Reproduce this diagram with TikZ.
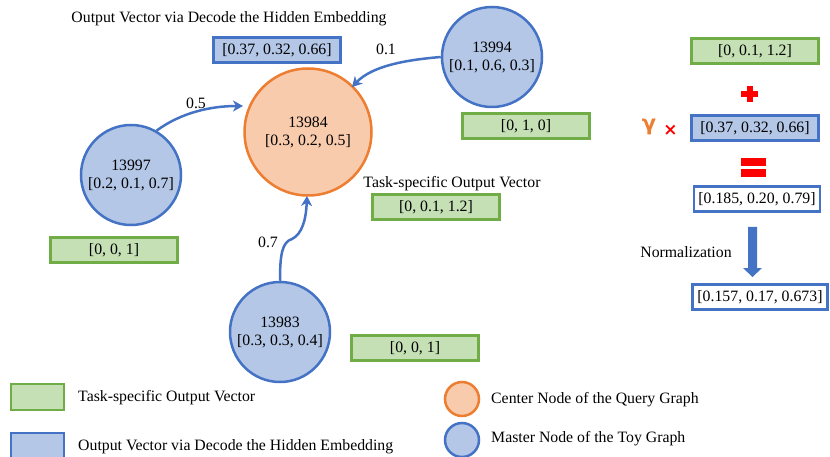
\documentclass[tikz,border=0pt]{standalone}
\usepackage{fontspec}
\setmainfont{Liberation Serif}
\newfontfamily\symfont{DejaVu Sans}
\usetikzlibrary{arrows.meta}
\definecolor{mblue}{HTML}{4472C4}
\definecolor{mbluefill}{HTML}{B4C7E7}
\definecolor{morange}{HTML}{ED7D31}
\definecolor{morangefill}{HTML}{F8CBAD}
\definecolor{mgreen}{HTML}{70AD47}
\definecolor{mgreenfill}{HTML}{C5E0B4}
\definecolor{mred}{HTML}{FF0000}
\tikzset{
  every node/.style={font=\fontsize{15.8}{18}\selectfont, inner sep=0pt},
  masternode/.style={circle, draw=mblue, fill=mbluefill, line width=2.5pt, minimum size=100pt, align=center},
  centernode/.style={circle, draw=morange, fill=morangefill, line width=2.5pt, minimum size=127pt, align=center},
  taskbox/.style={rectangle, draw=mgreen, fill=mgreenfill, line width=2.3pt, minimum width=127pt, minimum height=25pt},
  decbox/.style={rectangle, draw=mblue, fill=mbluefill, line width=2.3pt, minimum width=127pt, minimum height=25pt},
  resbox/.style={rectangle, draw=mblue, fill=white, line width=2.3pt, minimum height=25pt},
  edge/.style={draw=mblue, line width=2.5pt, -{Stealth[length=10pt,width=11pt,inset=3pt]}},
  weight/.style={font=\fontsize{15.8}{18}\selectfont},
  legsquare/.style={rectangle, line width=2.3pt, minimum width=53pt, minimum height=26pt},
  legcircle/.style={circle, line width=2.5pt, minimum size=34pt},
  legtext/.style={anchor=west},
}
\begin{document}
\begin{tikzpicture}[x=1pt,y=-1pt]
\useasboundingbox (0,0) rectangle (830,457);

% graph nodes
\node[centernode] (c) at (308,132) {13984\\{}[0.3, 0.2, 0.5]};
\node[masternode] (a) at (131,175) {13997\\{}[0.2, 0.1, 0.7]};
\node[masternode] (b) at (492,57) {13994\\{}[0.1, 0.6, 0.3]};
\node[masternode] (d) at (280,332) {13983\\{}[0.3, 0.3, 0.4]};

% vectors attached to the graph
\node (dectitle) at (229,19) {Output Vector via Decode the Hidden Embedding};
\node[decbox] (dec) at (277,50) {[0.37, 0.32, 0.66]};
\node[taskbox] (tb) at (526,126) {[0, 1, 0]};
\node (tasktitle) at (452,184) {Task-specific Output Vector};
\node[taskbox] (tc) at (436,207) {[0, 0.1, 1.2]};
\node[taskbox] (ta) at (114,250) {[0, 0, 1]};
\node[taskbox] (td) at (415,348) {[0, 0, 1]};

% weighted edges towards the centre node
\coordinate (ctipa) at (243,106);
\coordinate (ctipb) at (352,87);
\coordinate (ctipd) at (307,196);
\coordinate (bend) at (292,239);
\draw[edge] (a.60) .. controls (182,112) and (212,106) .. (ctipa);
\draw[edge] (b.west) .. controls (405,60) and (372,66) .. (ctipb);
\draw[edge] (d.north) .. controls (280,255) and (282,242) .. (bend)
                      .. controls (302,234) and (306,220) .. (ctipd);
\node[weight] (wa) at (196,103) {0.5};
\node[weight] (wb) at (386,49) {0.1};
\node[weight] (wd) at (268,242) {0.7};

% combination on the right
\node[taskbox] (r1) at (755,51) {[0, 0.1, 1.2]};
\fill[mred] (741,91) rectangle (758,97);
\fill[mred] (746.5,86) rectangle (752.5,102);
\node[text=morange, font=\symfont\bfseries\fontsize{21}{21}\selectfont] (gam) at (649,127) {γ};
\node[text=mred, font=\symfont\bfseries\fontsize{17}{17}\selectfont] (times) at (670.5,130) {×};
\node[decbox] (r2) at (755,128) {[0.37, 0.32, 0.66]};
\fill[mred] (741,158) rectangle (766,166);
\fill[mred] (741,169) rectangle (766,177);
\node[resbox, minimum width=126pt] (r3) at (757,199) {[0.185, 0.20, 0.79]};
\node (norm) at (686,252) {Normalization};
\fill[mblue] (748,227) -- (757,227) -- (757,268) -- (762,268) -- (752.5,277)
  -- (743,268) -- (748,268) -- cycle;
\node[resbox, minimum width=135pt] (r4) at (760,297) {[0.157, 0.17, 0.673]};

% legend
\node[legsquare, draw=mgreen, fill=mgreenfill] (lg) at (37.5,397) {};
\node[legtext] (lgt) at (78,398) {Task-specific Output Vector};
\node[legsquare, draw=mblue, fill=mbluefill] (lb) at (37.5,446) {};
\node[legtext] (lbt) at (78,447) {Output Vector via Decode the Hidden Embedding};
\node[legcircle, draw=morange, fill=morangefill] (lo) at (462,399) {};
\node[legtext] (lot) at (491,400) {Center Node of the Query Graph};
\node[legcircle, draw=mblue, fill=mbluefill] (lm) at (462,440) {};
\node[legtext] (lmt) at (491,439) {Master Node of the Toy Graph};
\end{tikzpicture}
\end{document}
